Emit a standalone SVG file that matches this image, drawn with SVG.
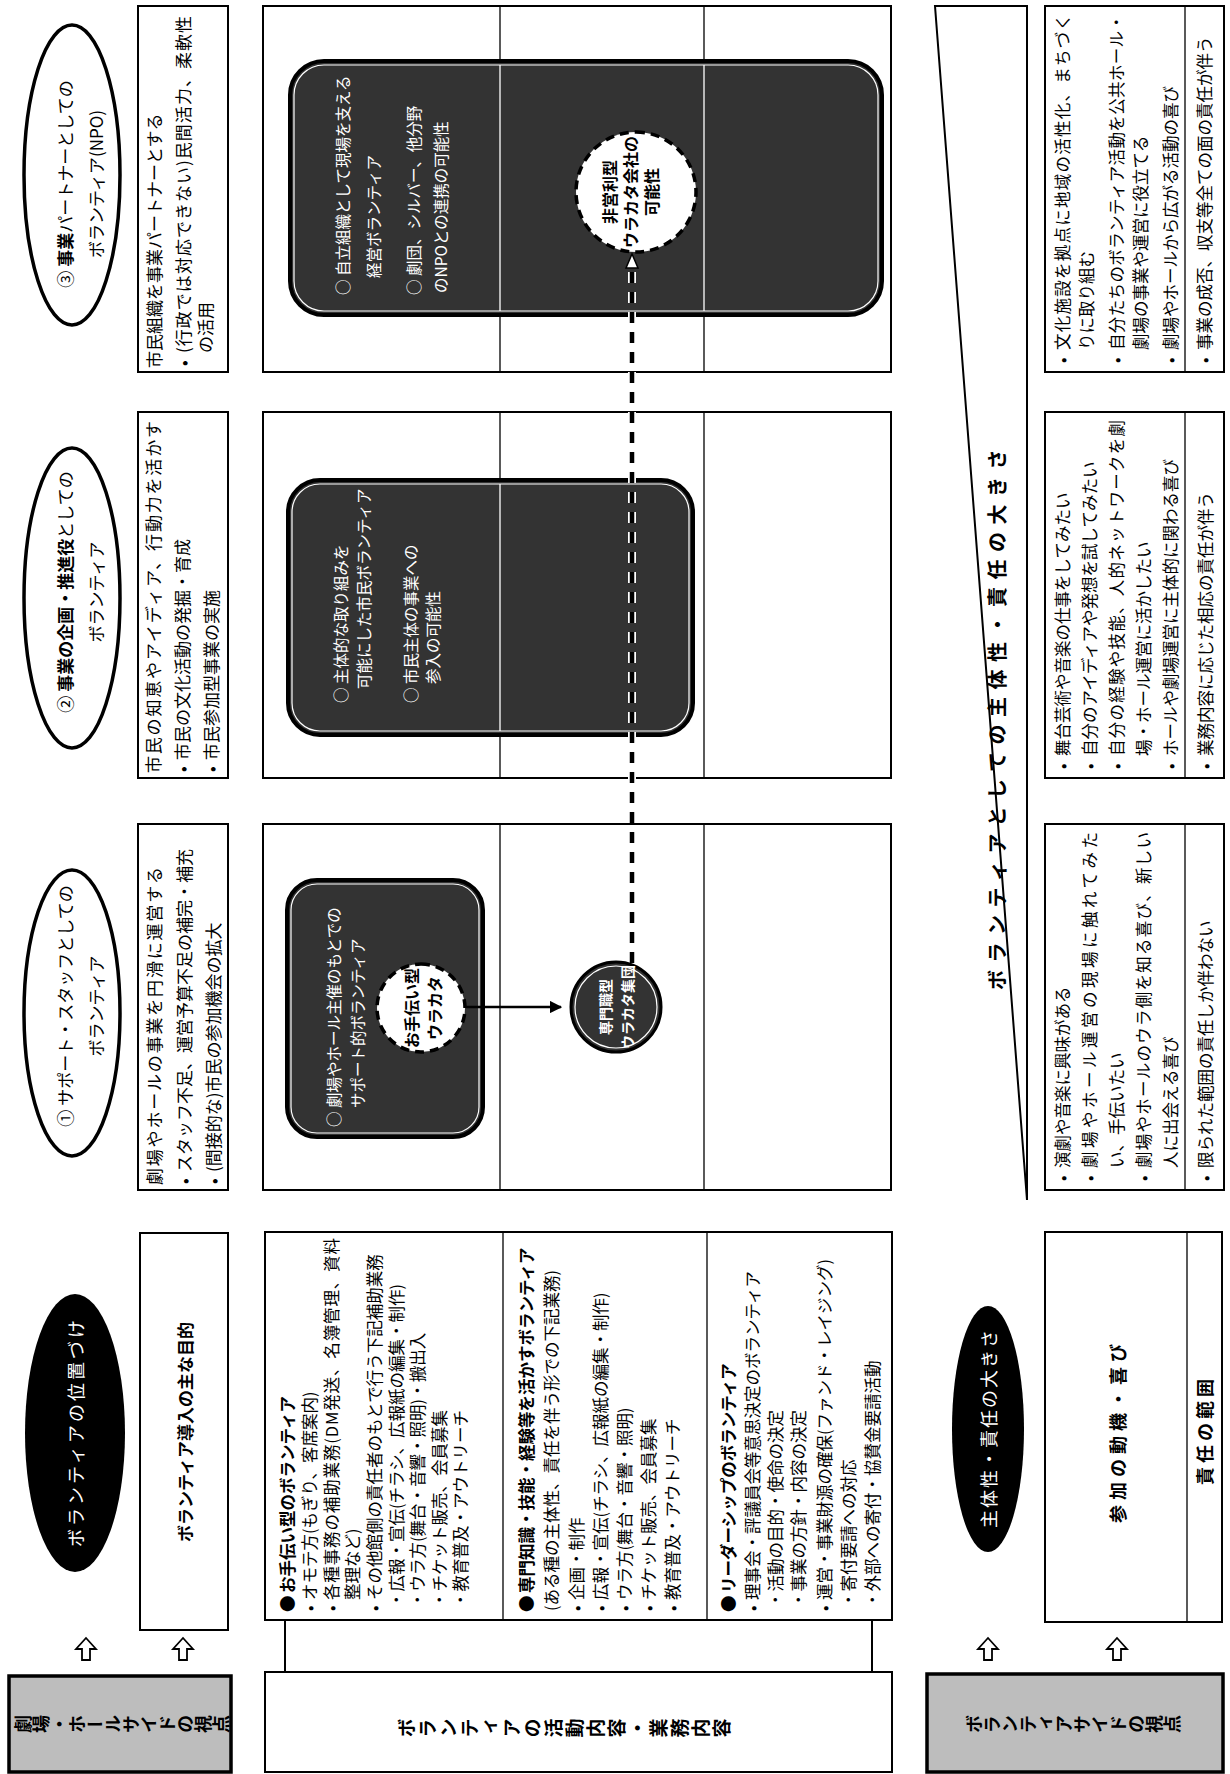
<svg xmlns="http://www.w3.org/2000/svg" width="1230" height="1774" viewBox="0 0 1230 1774">
<defs>
<style>
text{font-family:"Noto Sans CJK JP","Noto Sans CJK SC",sans-serif;font-size:16.5px;fill:#000;dominant-baseline:central}
.b{font-weight:bold}
.w{fill:#fff}
.c{text-anchor:middle}
.e{font-size:17px}
.d{font-size:15.5px;fill:#fff}
.vt{writing-mode:vertical-rl;text-anchor:middle;font-weight:bold;font-size:18px}
.box{fill:#fff;stroke:#000;stroke-width:2}
.thin{stroke:#000;stroke-width:1.3;fill:none}
.wl{stroke:#fff;stroke-width:1.3;fill:none}
.gray{fill:#bdbdbd;stroke:#000;stroke-width:3.5}
.dark{fill:#333;stroke:#000;stroke-width:4}
.inner{fill:none;stroke:#fff;stroke-width:1.2}
.oval{fill:#fff;stroke:#000;stroke-width:3.5}
.blk{fill:#000}
.hol{fill:#fff;stroke:#000;stroke-width:1.8}
.dashc{fill:#fff;stroke:#000;stroke-width:3.5;stroke-dasharray:9 6}
.ln{stroke:#000;stroke-width:2;fill:none}
</style>
<marker id="ah" viewBox="0 0 10 10" refX="9" refY="5" markerWidth="5" markerHeight="5" orient="auto"><path d="M0,0 L10,5 L0,10 z" fill="#000"/></marker>
</defs>
<rect width="1230" height="1774" fill="#fff"/>
<g transform="matrix(0,-1,1,0,0,1774)">

<!-- side headers -->
<g id="hall-side"><rect class="gray" x="2" y="9" width="96" height="222"/><text class="vt" x="50" y="122">劇場・ホールサイドの視点</text></g>
<g id="activity-header"><rect class="box" x="2" y="265" width="100" height="627"/><text class="vt" x="46" y="565" style="font-size:19px;letter-spacing:2px">ボランティアの活動内容・業務内容</text></g>
<g id="volunteer-side"><rect class="gray" x="2" y="927" width="98" height="296"/><text class="vt" x="50" y="1073">ボランティアサイドの視点</text></g>

<!-- header column -->
<g id="position"><ellipse class="blk" cx="341" cy="75" rx="139" ry="50"/><text class="w c" x="342" y="75" style="font-size:18px;letter-spacing:3px">ボランティアの位置づけ</text></g>
<g id="purpose"><rect class="box" x="144" y="140" width="397" height="88"/><text class="b c" x="342" y="184" style="font-size:17px">ボランティア導入の主な目的</text></g>

<g id="activities">
<rect class="box" x="154" y="265" width="388" height="627"/>
<line class="thin" x1="154" y1="503" x2="542" y2="503"/>
<line class="thin" x1="154" y1="707" x2="542" y2="707"/>
<text x="162" y="287">●</text><text class="b" x="181" y="287">お手伝い型のボランティア</text>
<text x="163" y="309">•</text><text x="174" y="309">オモテ方(もぎり、客席案内)</text>
<text x="163" y="331">•</text><text x="174" y="331" textLength="362" lengthAdjust="spacing">各種事務の補助業務(DM発送、名簿管理、資料</text>
<text x="174" y="352">整理など)</text>
<text x="163" y="374">•</text><text x="174" y="374">その他館側の責任者のもとで行う下記補助業務</text>
<text x="166" y="396">・広報・宣伝(チラシ、広報紙の編集・制作)</text>
<text x="166" y="417">・ウラ方(舞台・音響・照明)・搬出入</text>
<text x="166" y="439">・チケット販売、会員募集</text>
<text x="166" y="460">・教育普及・アウトリーチ</text>

<text x="162" y="526">●</text><text class="b" x="181" y="526">専門知識・技能・経験等を活かすボランティア</text>
<text x="163" y="551">(ある種の主体性、責任を伴う形での下記業務)</text>
<text x="163" y="576">•</text><text x="174" y="576">企画・制作</text>
<text x="163" y="600">•</text><text x="174" y="600">広報・宣伝(チラシ、広報紙の編集・制作)</text>
<text x="163" y="624">•</text><text x="174" y="624">ウラ方(舞台・音響・照明)</text>
<text x="163" y="648">•</text><text x="174" y="648">チケット販売、会員募集</text>
<text x="163" y="672">•</text><text x="174" y="672">教育普及・アウトリーチ</text>

<text x="162" y="728">●</text><text class="b" x="181" y="728">リーダーシップのボランティア</text>
<text x="163" y="752">•</text><text x="174" y="752">理事会・評議員会等意思決定のボランティア</text>
<text x="166" y="775">・活動の目的・使命の決定</text>
<text x="166" y="798">・事業の方針・内容の決定</text>
<text x="163" y="824">•</text><text x="174" y="824">運営・事業財源の確保(ファンド・レイジング)</text>
<text x="166" y="848">・寄付要請への対応</text>
<text x="166" y="872">・外部への寄付・協賛金要請活動</text>
</g>

<g id="responsibility"><ellipse class="blk" cx="345" cy="988" rx="123" ry="36"/><text class="w c" x="346" y="988" style="font-size:18px;letter-spacing:2px">主体性・責任の大きさ</text></g>
<g id="motivation-header">
<rect class="box" x="152" y="1045" width="390" height="177"/>
<line class="thin" x1="152" y1="1187" x2="542" y2="1187"/>
<text class="b c" x="343" y="1117" style="font-size:18px;letter-spacing:5px">参加の動機・喜び</text>
<text class="b c" x="344" y="1204" style="font-size:18px;letter-spacing:4px">責任の範囲</text>
</g>

<!-- arrows -->
<g id="arrows">
<path class="hol" d="M114,82 H125 V76 L136,86 L125,96 V90 H114 Z"/>
<path class="hol" d="M114,179 H125 V173 L136,183 L125,193 V187 H114 Z"/>
<path class="hol" d="M114,984 H125 V978 L136,988 L125,998 V992 H114 Z"/>
<path class="hol" d="M114,1113 H125 V1107 L136,1117 L125,1127 V1121 H114 Z"/>
</g>

<!-- column 1 -->
<g id="col1-type">
<ellipse class="oval" cx="761" cy="72" rx="143" ry="48"/>
<text class="c e" x="768" y="64">① サポート・スタッフとしての</text>
<text class="c e" x="768" y="95">ボランティア</text>
</g>
<g id="col1-purpose">
<rect class="box" x="584" y="138" width="366" height="90"/>
<text class="e" x="589" y="153" textLength="318" lengthAdjust="spacing">劇場やホールの事業を円滑に運営する</text>
<text class="e" x="590" y="183">•</text><text class="e" x="602" y="183">スタッフ不足、運営予算不足の補完・補充</text>
<text class="e" x="590" y="212">•</text><text class="e" x="602" y="212">(間接的な)市民の参加機会の拡大</text>
</g>
<g id="col1-activity">
<rect class="box" x="584" y="263" width="366" height="628"/>
<line class="thin" x1="584" y1="500" x2="950" y2="500"/>
<line class="thin" x1="584" y1="704" x2="950" y2="704"/>
<rect class="dark" x="637" y="287" width="257" height="196" rx="30"/>
<rect class="inner" x="641" y="291" width="249" height="188" rx="26"/>
<text class="d" x="647" y="333">○ 劇場やホール主催のもとでの</text>
<text class="d" x="666" y="357">サポート的ボランティア</text>
</g>
<g id="col1-motivation">
<rect class="box" x="584" y="1045" width="366" height="179"/>
<line class="thin" x1="584" y1="1185" x2="950" y2="1185"/>
<text x="593" y="1062">•</text><text x="606" y="1062">演劇や音楽に興味がある</text>
<text x="593" y="1089">•</text><text x="606" y="1089" textLength="336" lengthAdjust="spacing">劇場やホール運営の現場に触れてみた</text>
<text x="606" y="1116">い、手伝いたい</text>
<text x="593" y="1143">•</text><text x="606" y="1143" textLength="336" lengthAdjust="spacing">劇場やホールのウラ側を知る喜び、新しい</text>
<text x="606" y="1170">人に出会える喜び</text>
<text x="593" y="1205">•</text><text x="606" y="1205">限られた範囲の責任しか伴わない</text>
</g>

<!-- column 2 -->
<g id="col2-type">
<ellipse class="oval" cx="1176" cy="72" rx="150" ry="48"/>
<text class="c e" x="1182" y="64">② <tspan class="b">事業の企画・推進役</tspan>としての</text>
<text class="c e" x="1182" y="95">ボランティア</text>
</g>
<g id="col2-purpose">
<rect class="box" x="996" y="138" width="366" height="90"/>
<text class="e" x="1001" y="152" textLength="352" lengthAdjust="spacing">市民の知恵やアイディア、行動力を活かす</text>
<text class="e" x="1002" y="181">•</text><text class="e" x="1014" y="181">市民の文化活動の発掘・育成</text>
<text class="e" x="1002" y="210">•</text><text class="e" x="1014" y="210">市民参加型事業の実施</text>
</g>
<g id="col2-activity">
<rect class="box" x="996" y="263" width="366" height="628"/>
<line class="thin" x1="996" y1="500" x2="1362" y2="500"/>
<line class="thin" x1="996" y1="704" x2="1362" y2="704"/>
<rect class="dark" x="1039" y="288" width="255" height="405" rx="32"/>
<rect class="inner" x="1043" y="292" width="247" height="397" rx="28"/>
<line class="wl" x1="1043" y1="500" x2="1290" y2="500"/>
<text class="d" x="1071" y="340">○ 主体的な取り組みを</text>
<text class="d" x="1085" y="363">可能にした市民ボランティア</text>
<text class="d" x="1071" y="410">○ 市民主体の事業への</text>
<text class="d" x="1090" y="432">参入の可能性</text>
</g>
<g id="col2-motivation">
<rect class="box" x="996" y="1045" width="366" height="179"/>
<line class="thin" x1="996" y1="1185" x2="1362" y2="1185"/>
<text x="1005" y="1062">•</text><text x="1018" y="1062">舞台芸術や音楽の仕事をしてみたい</text>
<text x="1005" y="1089">•</text><text x="1018" y="1089">自分のアイディアや発想を試してみたい</text>
<text x="1005" y="1116">•</text><text x="1018" y="1116" textLength="336" lengthAdjust="spacing">自分の経験や技能、人的ネットワークを劇</text>
<text x="1018" y="1143">場・ホール運営に活かしたい</text>
<text x="1005" y="1170">•</text><text x="1018" y="1170">ホールや劇場運営に主体的に関わる喜び</text>
<text x="1005" y="1205">•</text><text x="1018" y="1205">業務内容に応じた相応の責任が伴う</text>
</g>

<!-- column 3 -->
<g id="col3-type">
<ellipse class="oval" cx="1599" cy="72" rx="150" ry="48"/>
<text class="c e" x="1590" y="64">③ <tspan class="b">事業</tspan>パートナーとしての</text>
<text class="c e" x="1590" y="95">ボランティア(NPO)</text>
</g>
<g id="col3-purpose">
<rect class="box" x="1402" y="138" width="366" height="90"/>
<text class="e" x="1406" y="153">市民組織を事業パートナーとする</text>
<text class="e" x="1408" y="182">•</text><text class="e" x="1421" y="182" textLength="337" lengthAdjust="spacing">(行政では対応できない)民間活力、柔軟性</text>
<text class="e" x="1421" y="204">の活用</text>
</g>
<g id="col3-activity">
<rect class="box" x="1402" y="263" width="366" height="628"/>
<line class="thin" x1="1402" y1="500" x2="1768" y2="500"/>
<line class="thin" x1="1402" y1="704" x2="1768" y2="704"/>
<rect class="dark" x="1459" y="290" width="254" height="592" rx="34"/>
<rect class="inner" x="1463" y="294" width="246" height="584" rx="30"/>
<line class="wl" x1="1463" y1="500" x2="1709" y2="500"/>
<line class="wl" x1="1463" y1="704" x2="1709" y2="704"/>
<text class="d" x="1479" y="342">○ 自立組織として現場を支える</text>
<text class="d" x="1496" y="373">経営ボランティア</text>
<text class="d" x="1479" y="413">○ 劇団、シルバー、他分野</text>
<text class="d" x="1481" y="440">のNPOとの連携の可能性</text>
</g>
<g id="col3-motivation">
<rect class="box" x="1402" y="1045" width="366" height="179"/>
<line class="thin" x1="1402" y1="1185" x2="1768" y2="1185"/>
<text x="1411" y="1062">•</text><text x="1424" y="1062" textLength="336" lengthAdjust="spacing">文化施設を拠点に地域の活性化、まちづく</text>
<text x="1424" y="1086">りに取り組む</text>
<text x="1411" y="1116">•</text><text x="1424" y="1116" textLength="336" lengthAdjust="spacing">自分たちのボランティア活動を公共ホール・</text>
<text x="1424" y="1140">劇場の事業や運営に役立てる</text>
<text x="1411" y="1170">•</text><text x="1424" y="1170">劇場やホールから広がる活動の喜び</text>
<text x="1411" y="1204">•</text><text x="1424" y="1204">事業の成否、収支等全ての面の責任が伴う</text>
</g>

<!-- wedge -->
<g id="wedge">
<polygon points="1768,935 1768,1027 574,1027" fill="none" stroke="#000" stroke-width="2"/>
<text class="b c" x="1058" y="996" style="font-size:20px;letter-spacing:7.5px">ボランティアとしての主体性・責任の大きさ</text>
</g>

<!-- connectors -->
<g id="connectors">
<line class="ln" x1="102" y1="285" x2="154" y2="285"/>
<line class="ln" x1="102" y1="872" x2="154" y2="872"/>
<line stroke="#000" stroke-width="2.5" x1="767" y1="466" x2="767" y2="561" marker-end="url(#ah)"/>
<line stroke="#fff" stroke-width="8" stroke-dasharray="11 9" x1="811" y1="632" x2="1506" y2="632"/>
<line stroke="#000" stroke-width="4.5" stroke-dasharray="11 9" x1="811" y1="632" x2="1506" y2="632"/>
<polygon points="1520,632 1506,626 1506,638" fill="#fff" stroke="#000" stroke-width="1.5"/>
</g>

<!-- circles -->
<g id="circle-otetsudai">
<circle class="dashc" cx="766" cy="421" r="44"/>
<text class="b c" x="766" y="411" style="font-size:16px">お手伝い型</text>
<text class="b c" x="766" y="434" style="font-size:16px">ウラカタ</text>
</g>
<g id="circle-senmon">
<circle cx="767" cy="616" r="45" fill="#333" stroke="#000" stroke-width="3"/>
<circle cx="767" cy="616" r="41" fill="none" stroke="#fff" stroke-width="1.2"/>
<text class="b c w" x="767" y="605" style="font-size:14px">専門職型</text>
<text class="b c w" x="767" y="627" style="font-size:14px">ウラカタ集団</text>
</g>
<g id="circle-hieiri">
<circle class="dashc" cx="1582" cy="636" r="60"/>
<text class="b c" x="1582" y="609" style="font-size:16px">非営利型</text>
<text class="b c" x="1582" y="630" style="font-size:16px">ウラカタ会社の</text>
<text class="b c" x="1582" y="651" style="font-size:16px">可能性</text>
</g>

</g>
</svg>
